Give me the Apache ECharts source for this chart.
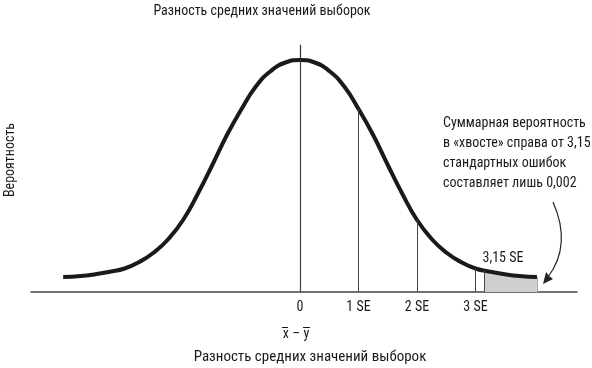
<!DOCTYPE html>
<html><head><meta charset="utf-8">
<script src="https://cdn.jsdelivr.net/npm/echarts@6/dist/echarts.min.js"></script>
<style>html,body{margin:0;padding:0;background:#fff}#c{width:592px;height:368px}</style>
</head><body><div id="c"></div>
<script>
// Curve (x in SE units, height in arbitrary probability units)
const curveX = [-4.05,-3.75,-3.5,-3.25,-3,-2.75,-2.5,-2.25,-2,-1.75,-1.5,-1.25,-1,-0.75,-0.5,-0.25,0,0.25,0.5,0.75,1,1.25,1.5,1.75,2,2.25,2.5,2.75,3,3.25,3.5,3.75,4.05];
const curveY = [15,16,17.8,20.3,23.5,30,39.5,53,72,98,127,157,183,206,221,229.5,232,229.5,221,206,183,157,127,98,72,53,39.5,30,23.5,20.3,17.8,16,15];
// Vertical reference lines
const markerX = [0,1,2,3,3.15];
const markerY = [232,183,72,23.5,21.8];
// Shaded tail beyond 3,15 SE
const tailX = [3.15,3.25,3.5,3.75,4.05];
const tailY = [21.8,20.3,17.8,16,15];
// Tick labels
const tickValues = [0,1,2,3];
const tickLabels = ['0','1 SE','2 SE','3 SE'];

const FONT = "'Liberation Sans Narrow','Roboto Condensed','DejaVu Sans Condensed','Liberation Sans',sans-serif";
const TXT = '#1a1a1a';

const chart = echarts.init(document.getElementById('c'), null, {renderer:'canvas'});
const option = {
  animation: false,
  backgroundColor: '#fff',
  grid: {left: 31, right: 15, top: 45, bottom: 76, containLabel: false, outerBoundsMode: 'none'},
  xAxis: {
    type: 'value', min: -4.6, max: 4.735,
    axisLine: {show: true, onZero: false, lineStyle: {color: '#444', width: 1.5}},
    axisTick: {show: false},
    splitLine: {show: false},
    axisLabel: {
      customValues: tickValues,
      formatter: v => tickLabels[tickValues.indexOf(v)],
      margin: 8, fontFamily: FONT, fontSize: 14, color: TXT
    }
  },
  yAxis: {
    type: 'value', min: 0, max: 247,
    axisLine: {show: true, lineStyle: {color: '#333', width: 1.2}},
    axisTick: {show: false}, axisLabel: {show: false}, splitLine: {show: false}
  },
  series: [
    {
      type: 'line', data: tailX.map((x,i)=>[x, tailY[i]]),
      showSymbol: false, smooth: true, silent: true,
      lineStyle: {width: 0},
      areaStyle: {color: '#cfcfcf', opacity: 1},
      markLine: {
        silent: true, symbol: 'none', label: {show: false},
        lineStyle: {color: '#aaa', width: 1, type: 'solid'},
        data: [[{coord: [tailX[tailX.length-1], 0]}, {coord: [tailX[tailX.length-1], tailY[tailY.length-1]]}]]
      },
      z: 1
    },
    {
      type: 'line', data: curveX.map((x,i)=>[x, curveY[i]]),
      showSymbol: false, smooth: true, silent: true,
      lineStyle: {color: '#1a1a1a', width: 4},
      markLine: {
        silent: true, symbol: 'none', label: {show: false},
        lineStyle: {color: '#444', width: 1, type: 'solid'},
        data: markerX.map((x,i)=>[{coord: [x, 0]}, {coord: [x, markerY[i]]}])
      },
      z: 3
    }
  ],
  graphic: [
    {type: 'text', x: 262, y: 11, style: {text: 'Разность средних значений выборок', font: '14px ' + FONT, fill: TXT, align: 'center', verticalAlign: 'middle'}},
    {type: 'text', x: 310, y: 357, style: {text: 'Разность средних значений выборок', font: '15px ' + FONT, fill: TXT, align: 'center', verticalAlign: 'middle'}},
    {type: 'text', x: 10, y: 160, rotation: Math.PI/2, style: {text: 'Вероятность', font: '14px ' + FONT, fill: TXT, align: 'center', verticalAlign: 'middle'}},
    {type: 'text', x: 296, y: 334, style: {text: 'x – y', font: '14px ' + FONT, fill: TXT, align: 'center', verticalAlign: 'middle'}},
    {type: 'line', shape: {x1: 282, y1: 327.5, x2: 288, y2: 327.5}, style: {stroke: TXT, lineWidth: 1}},
    {type: 'line', shape: {x1: 303, y1: 327.5, x2: 310, y2: 327.5}, style: {stroke: TXT, lineWidth: 1}},
    {type: 'text', x: 503, y: 258, style: {text: '3,15 SE', font: '14px ' + FONT, fill: TXT, align: 'center', verticalAlign: 'middle'}},
    {type: 'text', x: 443, y: 113, style: {text: 'Суммарная вероятность\nв «хвосте» справа от 3,15\nстандартных ошибок\nсоставляет лишь 0,002', font: '14px ' + FONT, lineHeight: 20, fill: TXT, align: 'left', verticalAlign: 'top'}},
    {type: 'bezierCurve', shape: {x1: 553, y1: 202, cpx1: 572, cpy1: 245, x2: 548, y2: 277}, style: {stroke: '#222', lineWidth: 1.2, fill: null}},
    {type: 'polygon', shape: {points: [[543, 284], [553, 279], [549, 276], [546, 272]]}, style: {fill: '#222'}}
  ]
};
chart.setOption(option);
</script>
</body></html>
